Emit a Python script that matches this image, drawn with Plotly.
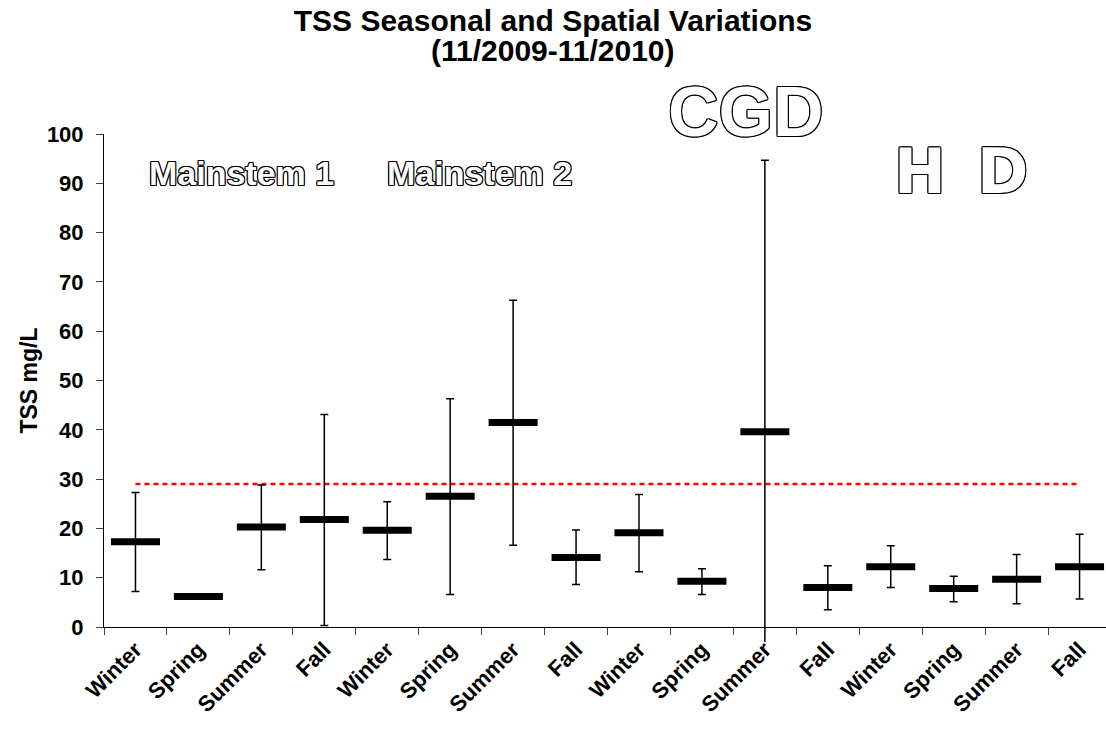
import plotly.graph_objects as go

# ---- data ----
seasons = ["Winter", "Spring", "Summer", "Fall",
           "Winter", "Spring", "Summer", "Fall",
           "Winter", "Spring", "Summer", "Fall",
           "Winter", "Spring", "Summer", "Fall"]
tss_mean = [17.3, 6.2, 20.3, 21.8, 19.6, 26.5, 41.5, 14.1,
            19.1, 9.3, 39.6, 8.0, 12.2, 7.8, 9.7, 12.2]
tss_max = [27.3, 6.2, 28.8, 43.1, 25.4, 46.3, 66.3, 19.7,
           26.9, 11.8, 94.7, 12.4, 16.5, 10.3, 14.7, 18.8]
tss_min = [7.2, 6.2, 11.6, 0.3, 13.7, 6.6, 16.6, 8.6,
           11.2, 6.6, -3.2, 3.5, 8.0, 5.1, 4.7, 5.7]
threshold = 29
group_labels = ["Mainstem 1", "Mainstem 2", "CGD", "HD"]
y_ticks = [0, 10, 20, 30, 40, 50, 60, 70, 80, 90, 100]

xs = list(range(len(seasons)))
err_plus = [mx - m for mx, m in zip(tss_max, tss_mean)]
err_minus = [m - mn for m, mn in zip(tss_mean, tss_min)]

FONT = "Liberation Sans, Arial, sans-serif"
W, H = 1106, 730
LEFT = 104
TOP, BOT = 134, 642          # paper area in px (bottom extends a bit below y=0)
Y0 = 627                     # pixel of y = 0
PX_PER_UNIT = (Y0 - TOP) / 100.0


def py(p):
    """pixel row -> paper y"""
    return (BOT - p) / (BOT - TOP)


def px(p):
    """pixel column -> paper x"""
    return (p - LEFT) / (W - LEFT)


fig = go.Figure()

fig.add_trace(go.Scatter(
    x=xs, y=[threshold] * len(xs), mode="lines",
    line=dict(color="#ff0000", width=2.5, dash="5px,4px"),
    hoverinfo="skip", showlegend=False,
))

fig.add_trace(go.Scatter(
    x=xs, y=tss_mean, mode="markers", xaxis="x2", yaxis="y2",
    marker=dict(symbol="line-ew", size=35, color="#000",
                line=dict(color="#000", width=7)),
    error_y=dict(type="data", symmetric=False, array=err_plus,
                 arrayminus=err_minus, color="#000", thickness=1.5, width=4),
    cliponaxis=False, showlegend=False,
))

outline = ("1px 1px 0 #000, -1px -1px 0 #000, 1px -1px 0 #000, -1px 1px 0 #000, "
           "0 1px 0 #000, 0 -1px 0 #000, 1px 0 0 #000, -1px 0 0 #000")
label_pos = [(1.68, 173, 34, FONT),
             (5.47, 173, 34, FONT),
             (9.70, 112, 70, FONT),
             (13.12, 171, 62, "DejaVu Sans, Liberation Sans, sans-serif")]
for txt, (ax, ay, fs, fam) in zip(group_labels, label_pos):
    t = txt if txt != "HD" else "H\u2002D"
    fig.add_annotation(x=ax, y=py(ay), xref="x", yref="paper", text=t, showarrow=False,
                       font=dict(family=fam, size=fs, color="#fff", weight="bold",
                                 shadow=outline),
                       xanchor="center", yanchor="middle")

fig.add_annotation(x=px(W / 2), y=py(50), xref="paper", yref="paper",
                   text="(11/2009-11/2010)", showarrow=False,
                   xanchor="center", yanchor="middle",
                   font=dict(size=30, family=FONT, weight="bold", color="#000"))

fig.update_layout(
    width=W, height=H,
    paper_bgcolor="#fff", plot_bgcolor="rgba(0,0,0,0)",
    margin=dict(l=LEFT, r=0, t=TOP, b=H - BOT),
    font=dict(family=FONT, color="#000"),
    title=dict(text="TSS Seasonal and Spatial Variations",
               x=0.5, xanchor="center", xref="container",
               yref="container", y=1 - 20 / H, yanchor="middle",
               font=dict(size=30, family=FONT, weight="bold", color="#000")),
    xaxis=dict(range=[-0.5, 15.42], tickmode="array", tickvals=xs, ticktext=seasons,
               tickangle=-45, ticks="", showgrid=False, zeroline=False,
               showline=True, linecolor="#000", linewidth=1,
               tickfont=dict(size=22, family=FONT, weight="bold"),
               minor=dict(tickvals=[i - 0.5 for i in range(len(xs) + 1)],
                          ticks="outside", ticklen=7, tickcolor="#444", tickwidth=1,
                          showgrid=False)),
    yaxis=dict(range=[0, 100], domain=[(BOT - Y0) / (BOT - TOP), 1],
               tickmode="array", tickvals=y_ticks,
               ticks="outside", ticklen=7, tickcolor="#444", tickwidth=1,
               showgrid=False, zeroline=False, showline=True,
               linecolor="#000", linewidth=1, ticklabelstandoff=8,
               tickfont=dict(size=22, family=FONT, weight="bold"),
               title=dict(text="TSS mg/L", standoff=2,
                          font=dict(size=23, family=FONT, weight="bold"))),
    xaxis2=dict(range=[-0.5, 15.42], anchor="y2", visible=False),
    yaxis2=dict(range=[-(BOT - Y0) / PX_PER_UNIT, 100], domain=[0, 1],
                anchor="x2", visible=False),
)

fig.write_html("out.html")
